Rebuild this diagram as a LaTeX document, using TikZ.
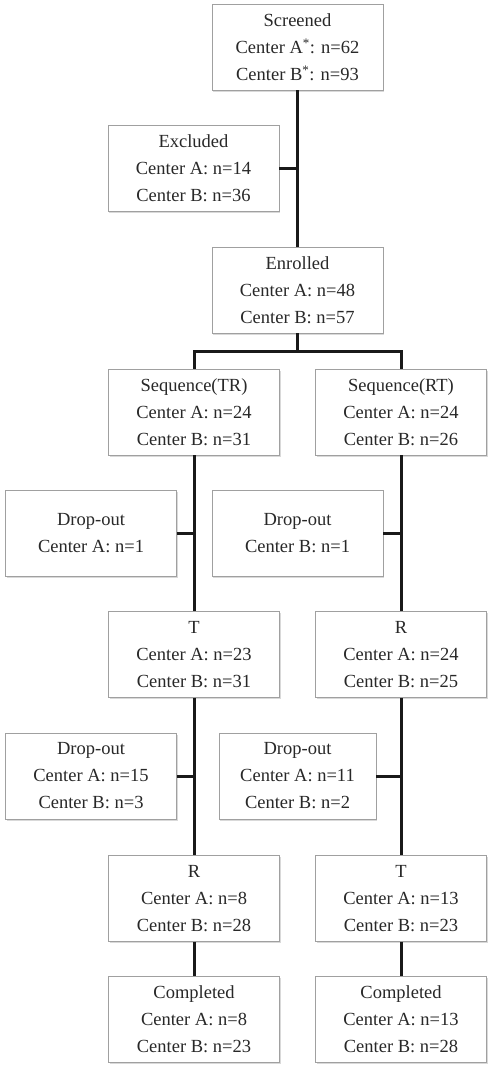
\documentclass[tikz,border=0pt]{standalone}
\usepackage{fontspec}
\setmainfont{Liberation Serif}
\usetikzlibrary{shadows}
\definecolor{boxgray}{RGB}{160,160,160}
\definecolor{textgray}{RGB}{40,40,40}
\tikzset{
  flowbox/.style={rectangle, draw=boxgray, line width=0.8pt, fill=white, text=textgray,
    minimum width=171pt, minimum height=86pt, inner sep=0pt, align=center,
    font=\fontsize{18.5}{27}\selectfont,
    drop shadow={shadow xshift=1pt, shadow yshift=-1.5pt, opacity=0.3}},
  flowline/.style={line width=3pt, draw=black!90}
}

\begin{document}
\begin{tikzpicture}[x=1pt, y=-1pt]
  \useasboundingbox (0,0) rectangle (494,1071);

  \node[flowbox] (scr) at (297.5,47) {Screened\\Center A\textsuperscript{*}: n=62\\Center B\textsuperscript{*}: n=93};
  \node[flowbox] (excl) at (193.5,168.5) {Excluded\\Center A: n=14\\Center B: n=36};
  \node[flowbox] (enr) at (297.5,290) {Enrolled\\Center A: n=48\\Center B: n=57};

  \node[flowbox] (seqtr) at (194,412) {Sequence(TR)\\Center A: n=24\\Center B: n=31};
  \node[flowbox] (seqrt) at (401,412) {Sequence(RT)\\Center A: n=24\\Center B: n=26};

  \node[flowbox] (dropl1) at (91,533.5) {Drop-out\\Center A: n=1};
  \node[flowbox] (dropr1) at (297.5,533.5) {Drop-out\\Center B: n=1};

  \node[flowbox] (tl) at (194,654.5) {T\\Center A: n=23\\Center B: n=31};
  \node[flowbox] (rr) at (401,654.5) {R\\Center A: n=24\\Center B: n=25};

  \node[flowbox] (dropl2) at (91,776) {Drop-out\\Center A: n=15\\Center B: n=3};
  \node[flowbox, minimum width=157pt] (dropr2) at (297.5,776) {Drop-out\\Center A: n=11\\Center B: n=2};

  \node[flowbox] (rl) at (194,898.5) {R\\Center A: n=8\\Center B: n=28};
  \node[flowbox] (tr) at (401,898.5) {T\\Center A: n=13\\Center B: n=23};

  \node[flowbox] (compl) at (194,1019.5) {Completed\\Center A: n=8\\Center B: n=23};
  \node[flowbox] (compr) at (401,1019.5) {Completed\\Center A: n=13\\Center B: n=28};

  % trunk
  \draw[flowline] (scr.south) -- (enr.north);
  \draw[flowline] (excl.east) -- (excl.east -| scr.south);

  % split into the two sequences
  \coordinate (split) at (297.5,351);
  \draw[flowline] (enr.south) -- (split);
  \draw[flowline] (seqtr.north) |- (split) -| (seqrt.north);

  % left arm
  \draw[flowline] (seqtr.south) -- (tl.north);
  \draw[flowline] (dropl1.east) -- (dropl1.east -| seqtr.south);
  \draw[flowline] (tl.south) -- (rl.north);
  \draw[flowline] (dropl2.east) -- (dropl2.east -| tl.south);
  \draw[flowline] (rl.south) -- (compl.north);

  % right arm
  \draw[flowline] (seqrt.south) -- (rr.north);
  \draw[flowline] (dropr1.east) -- (dropr1.east -| seqrt.south);
  \draw[flowline] (rr.south) -- (tr.north);
  \draw[flowline] (dropr2.east) -- (dropr2.east -| rr.south);
  \draw[flowline] (tr.south) -- (compr.north);
\end{tikzpicture}
\end{document}
